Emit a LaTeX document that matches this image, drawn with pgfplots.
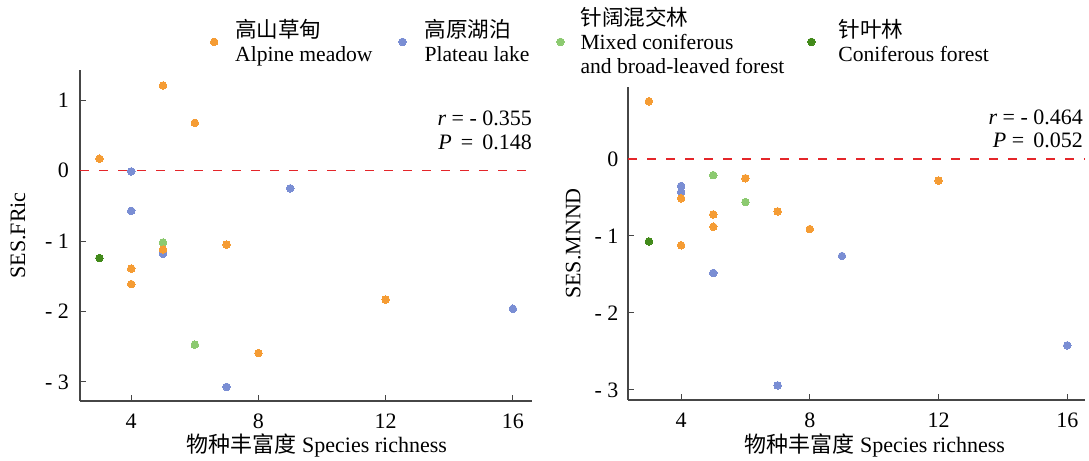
\documentclass[border=0pt]{standalone}
\usepackage{pgfplots}
\pgfplotsset{compat=1.18}
\usepackage{fontspec}
\setmainfont{Liberation Serif}
\newfontfamily\cjk{Noto Sans CJK SC}

\definecolor{meadow}{RGB}{245,156,52}
\definecolor{lake}{RGB}{122,142,212}
\definecolor{mixed}{RGB}{140,202,112}
\definecolor{conif}{RGB}{66,138,26}
\definecolor{zeroline}{RGB}{228,38,42}
\definecolor{axgray}{RGB}{70,70,70}

\tikzset{dot/.style={only marks, mark=*, color=#1, mark size=1.9pt, mark options={draw=#1, fill=#1, line width=0pt}}}

\pgfplotsset{
  panel/.style={
    scale only axis, anchor=south west,
    axis x line*=bottom, axis y line*=left,
    axis line style={axgray, line width=0.6pt},
    tick style={axgray, line width=0.5pt},
    major tick length=3pt, tick align=inside,
    xtick={4,8,12,16}, xticklabels={4,8,12,16},
    xticklabel style={yshift=-3pt},
    xlabel={{\cjk 物种丰富度} Species richness},
    clip=false,
  },
}

% SES.FRic by habitat type
\pgfplotstableread{
x y
3 0.17
5 1.21
6 0.68
5 -1.12
7 -1.05
4 -1.39
4 -1.61
12 -1.83
8 -2.59
}\fricMeadow
\pgfplotstableread{
x y
4 -0.01
4 -0.57
9 -0.25
5 -1.18
16 -1.96
7 -3.07
}\fricLake
\pgfplotstableread{
x y
5 -1.02
6 -2.47
}\fricMixed
\pgfplotstableread{
x y
3 -1.24
}\fricConif

% SES.MNND by habitat type
\pgfplotstableread{
x y
3 0.75
4 -0.51
6 -0.25
5 -0.72
5 -0.88
7 -0.68
8 -0.91
12 -0.28
4 -1.12
}\mnndMeadow
\pgfplotstableread{
x y
4 -0.35
4 -0.43
9 -1.26
5 -1.48
7 -2.94
16 -2.42
}\mnndLake
\pgfplotstableread{
x y
5 -0.21
6 -0.56
}\mnndMixed
\pgfplotstableread{
x y
3 -1.07
}\mnndConif

\begin{document}
\begin{tikzpicture}[font=\fontsize{11pt}{12.5pt}\selectfont]
\path[use as bounding box] (0,0) rectangle (544.5pt,230.5pt);

\begin{axis}[panel, at={(40pt,30pt)}, width=226pt, height=165.5pt,
  xmin=2.39, xmax=16.6, ymin=-3.27, ymax=1.43,
  ytick={-3,-2,-1,0,1}, yticklabels={- 3,- 2,- 1,0,1},
  yticklabel style={xshift=-2pt},
  ylabel={SES.FRic},
  ylabel style={at={(axis description cs:-0.137,0.5)}, anchor=center},
  xlabel style={at={(axis description cs:0.524,-0.133)}, anchor=center},
  legend columns=4, legend cell align=left,
  legend image code/.code={\draw[mark repeat=2, mark phase=2, #1] plot coordinates {(0pt,0pt) (4pt,0pt) (8pt,0pt)};},
  legend style={at={(axis description cs:0.2876,1.085)}, anchor=west,
    draw=none, fill=none, inner sep=0pt,
    font=\fontsize{10.8pt}{12.2pt}\selectfont,
    cells={align=left}, nodes={inner sep=0pt},
    /tikz/column 1/.style={column sep=8.6pt},
    /tikz/column 2/.style={column sep=13.1pt},
    /tikz/column 3/.style={column sep=9.1pt},
    /tikz/column 4/.style={column sep=13.6pt},
    /tikz/column 5/.style={column sep=8.1pt},
    /tikz/column 6/.style={column sep=11.6pt},
    /tikz/column 7/.style={column sep=11.6pt}},
]
\addlegendimage{dot=meadow}
\addlegendentry{{\cjk 高山草甸}\\Alpine meadow}
\addlegendimage{dot=lake}
\addlegendentry{{\cjk 高原湖泊}\\Plateau lake}
\addlegendimage{dot=mixed}
\addlegendentry{{\cjk 针阔混交林}\\Mixed coniferous\\and broad-leaved forest}
\addlegendimage{dot=conif}
\addlegendentry{{\cjk 针叶林}\\Coniferous forest}

\draw[zeroline, line width=0.7pt, dash pattern=on 4.5pt off 5pt]
  ({rel axis cs:0,0}|-{axis cs:0,0}) -- ({rel axis cs:1,0}|-{axis cs:0,0});

\addplot[dot=lake, forget plot] table {\fricLake};
\addplot[dot=mixed, forget plot] table {\fricMixed};
\addplot[dot=conif, forget plot] table {\fricConif};
\addplot[dot=meadow, forget plot] table {\fricMeadow};

\node[anchor=east, xshift=3.5pt] at (rel axis cs:1,0.855) {\textit{r} = - 0.355};
\node[anchor=east, xshift=3.5pt] at (rel axis cs:1,0.782) {\textit{P}\, = \,0.148};
\end{axis}

\begin{axis}[panel, at={(314pt,30.5pt)}, width=228.5pt, height=156.5pt,
  xmin=2.35, xmax=16.55, ymin=-3.13, ymax=0.935,
  ytick={-3,-2,-1,0}, yticklabels={- 3,- 2,- 1,0},
  yticklabel style={xshift=-1.3pt},
  ylabel={SES.MNND},
  ylabel style={at={(axis description cs:-0.120,0.5)}, anchor=center},
  xlabel style={at={(axis description cs:0.540,-0.144)}, anchor=center},
]
\draw[zeroline, line width=0.7pt, dash pattern=on 4.5pt off 5pt]
  ({rel axis cs:0,0}|-{axis cs:0,0}) -- ({rel axis cs:1,0}|-{axis cs:0,0});

\addplot[dot=lake] table {\mnndLake};
\addplot[dot=mixed] table {\mnndMixed};
\addplot[dot=conif] table {\mnndConif};
\addplot[dot=meadow] table {\mnndMeadow};

\node[anchor=east, xshift=2.5pt] at (rel axis cs:1,0.904) {\textit{r} = - 0.464};
\node[anchor=east, xshift=2.5pt] at (rel axis cs:1,0.831) {\textit{P} = \,0.052};
\end{axis}
\end{tikzpicture}
\end{document}
